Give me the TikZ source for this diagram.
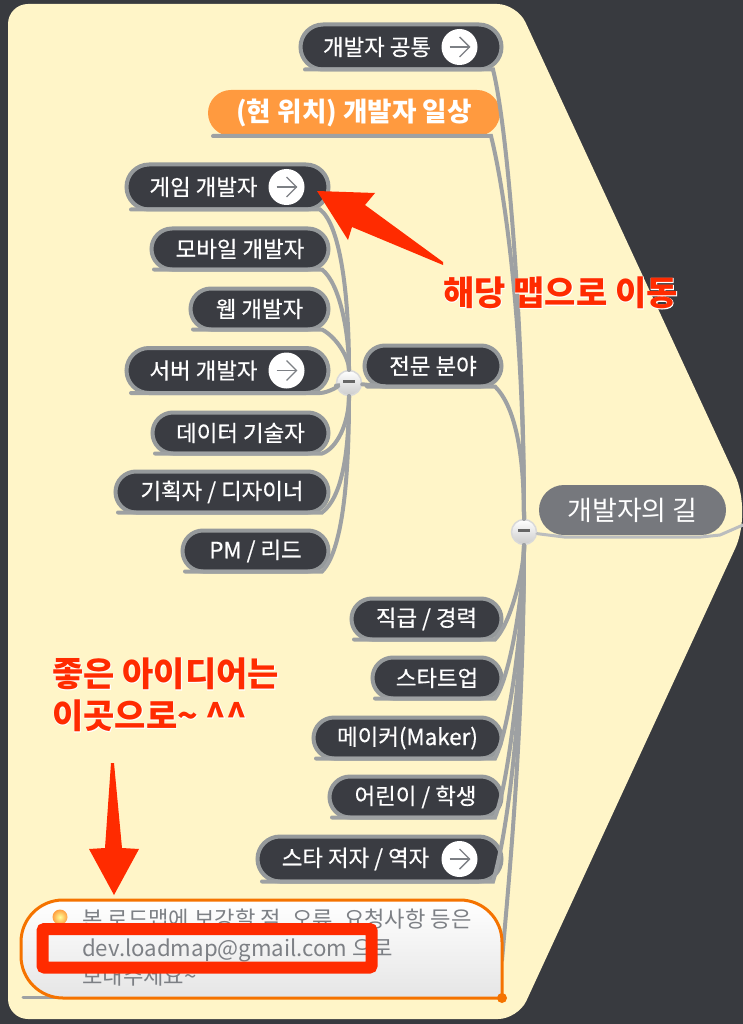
\documentclass[tikz,border=0pt]{standalone}
\usepackage{fontspec}
\usepackage{xcolor}
\usetikzlibrary{shapes.misc}
\setmainfont{Noto Sans CJK KR}
\newfontfamily\pillfont[FakeBold=0.5]{Noto Sans CJK KR}
\definecolor{bgdark}{HTML}{383A3F}
\definecolor{paper}{HTML}{FFF5C8}
\definecolor{pillfill}{HTML}{3A3C42}
\definecolor{pilledge}{HTML}{95999B}
\definecolor{linkgray}{HTML}{9EA1A3}
\definecolor{rootfill}{HTML}{76787D}
\definecolor{daily}{HTML}{FF9A3F}
\definecolor{noteedge}{HTML}{F57300}
\definecolor{notetext}{HTML}{7D8085}
\definecolor{alert}{HTML}{FF2B00}
\newcommand{\gotext}[1]{#1\kern48pt}
\tikzset{
    pill/.style={rounded rectangle, draw=pilledge, line width=4pt, fill=pillfill, text=white,
        minimum height=41pt, inner sep=0pt, font=\pillfont\fontsize{22.4}{25}\selectfont},
    tallpill/.style={pill, minimum height=45pt},
    link/.style={draw=linkgray, line width=4pt, line cap=round},
    gocircle/.style={circle, fill=white, minimum size=36pt, inner sep=0pt},
    gostroke/.style={draw=notetext, line width=1.4pt},
    hub/.style={circle, draw=white!85!black, line width=1.5pt, top color=white, bottom color=black!20,
        minimum size=25pt, inner sep=0pt},
    alerttext/.style={text=alert, font=\fontsize{34}{42}\selectfont\bfseries, align=left},
    halotext/.style={text=white, font=\fontsize{34}{42}\selectfont\bfseries, align=left}
}
\begin{document}
\begin{tikzpicture}[x=1pt,y=-1pt]
    \useasboundingbox (0,0) rectangle (743,1024);
    \fill[bgdark] (0,0) rectangle (743,1024);
    \fill[paper, rounded corners=20pt] (8,4) -- (517,4) [rounded corners=40pt] -- (752,512)
        [rounded corners=20pt] -- (518,1019) -- (8,1019) -- cycle;

    \node[hub] (hubA) at (349,383) {\textcolor{black!60}{\rule[3pt]{12pt}{3pt}}};
    \node[hub] (hubB) at (524,532) {\textcolor{black!60}{\rule[3pt]{12pt}{3pt}}};

    \node[tallpill, minimum width=201pt] (common) at (401,47) {\gotext{개발자 공통}};
    \node[pill, fill=daily, draw=none, minimum height=46pt, minimum width=292pt, font=\fontsize{26.6}{30}\selectfont\bfseries] (daily) at (354,113) {(현 위치) 개발자 일상};
    \node[tallpill, minimum width=202pt] (game) at (227.5,187) {\gotext{게임 개발자}};
    \node[pill, minimum width=177pt] (mobile) at (240,249) {모바일 개발자};
    \node[pill, minimum width=138pt] (web) at (259.5,309) {웹 개발자};
    \node[tallpill, minimum width=202pt] (server) at (227.5,370.5) {\gotext{서버 개발자}};
    \node[pill, minimum width=176pt] (data) at (240.5,433) {데이터 기술자};
    \node[pill, minimum width=213pt] (plan) at (222,492) {기획자 / 디자이너};
    \node[pill, minimum width=146pt] (pm) at (255.5,551) {PM / 리드};
    \node[pill, minimum width=137pt] (field) at (433,366) {전문 분야};
    \node[pill, fill=rootfill, draw=none, minimum height=50pt, minimum width=187pt, font=\fontsize{27}{30}\selectfont] (root) at (632.5,510) {개발자의 길};
    \node[pill, minimum width=150pt] (rank) at (426.5,619) {직급 / 경력};
    \node[pill, minimum width=129pt] (startup) at (437,678) {스타트업};
    \node[pill, minimum width=188pt] (maker) at (407.5,738) {메이커(Maker)};
    \node[pill, minimum width=172pt] (youth) at (415.5,797) {어린이 / 학생};
    \node[tallpill, minimum width=244pt] (star) at (379.5,859) {\gotext{스타 저자 / 역자}};

    \foreach \n/\c/\d in {game/{20,15}/{0,-90}, mobile/{18,14}/{0,-50}, web/{15,8}/{0,-25},
            server/{8,0}/{-5,1}, data/{15,-5}/{0,40}, plan/{20,-15}/{0,70}, pm/{20,-20}/{0,100}}
        \draw[link] ([shift={(-18pt,2pt)}]\n.south west) -- ([yshift=2pt]\n.south east) -- ++(14,0) .. controls +(\c) and +(\d) .. (hubA);
    \foreach \n/\c/\d in {common/{15,60}/{0,-200}, daily/{15,60}/{0,-200}, field/{20,20}/{0,-80},
            rank/{15,-15}/{0,40}, startup/{15,-20}/{0,60}, maker/{15,-30}/{0,90},
            youth/{15,-40}/{0,120}, star/{15,-50}/{0,170}}
        \draw[link] ([shift={(-18pt,2pt)}]\n.south west) -- ([yshift=2pt]\n.south east) -- ++(14,0) .. controls +(\c) and +(\d) .. (hubB);

    \foreach \n in {common,game,server,star} {
        \node[gocircle] (go\n) at ([xshift=-44pt]\n.east) {};
        \draw[gostroke] ([xshift=-10pt]go\n.center) -- ([xshift=10pt]go\n.center);
        \draw[gostroke] ([yshift=10pt]go\n.center) -- ([xshift=10pt]go\n.center) -- ([yshift=-10pt]go\n.center);
    }

    \coordinate (rootExit) at (743,525);
    \draw[link, line width=3pt, linkgray!70] (hubB) -- (root.south west) -- (root.south east) -- (720,535) -- (rootExit);
    \draw[link] (hubA) -- ([yshift=2pt]field.south west);

    % note
    \coordinate (noteNW) at (21,900);
    \coordinate (noteSE) at (502,998);
    \coordinate (noteRight) at (502,960);
    \draw[link] (noteRight) .. controls +(5,-60) and +(0,200) .. (hubB);
    \draw[link, line width=3pt] (23,997) -- (60,997);
    \draw[draw=noteedge, line width=3pt, top color=white, bottom color=black!10]
        (noteSE) [rounded corners=42pt] -- (noteNW |- noteSE) -- (noteNW) -- (noteSE |- noteNW) [sharp corners] -- cycle;
    \node[circle, inner color=yellow!40!white, outer color=orange!75, minimum size=15pt, inner sep=0pt] (bulb) at (60,917) {};
    \node[text=notetext, anchor=west, align=left, inner sep=0pt, font=\fontsize{22.2}{28.5}\selectfont] (noteText) at (82,948)
        {본 로드맵에 보강할 점, 오류, 요청사항 등은\\dev.loadmap@gmail.com 으로\\보내주세요\textasciitilde};
    \node[circle, fill=noteedge, minimum size=10pt, inner sep=0pt] (noteDot) at (noteSE) {};

    % red marks
    \fill[alert] (317,191) -- (375,193) -- (365,205) -- (443,262) -- (443,265) -- (352,227) -- (348,240) -- cycle;
    \fill[alert] (111,763) -- (105,848) -- (89,849) -- (114,895) -- (139,849) -- (122,848) -- (114,763) -- cycle;
    \draw[alert, line width=12pt, rounded corners=2pt] (42.5,929) rectangle (371.5,967.5);

    \node[halotext, anchor=west, inner sep=0pt] (moveHalo) at (443,293) {\addfontfeature{FakeBold=3}해당 맵으로 이동};
    \node[alerttext, anchor=west, inner sep=0pt] (moveText) at (443,293) {해당 맵으로 이동};
    \node[halotext, anchor=west, inner sep=0pt] (ideaHalo) at (52,695) {\addfontfeature{FakeBold=3}좋은 아이디어는\\\addfontfeature{FakeBold=3}이곳으로\textasciitilde{} \textasciicircum\textasciicircum};
    \node[alerttext, anchor=west, inner sep=0pt] (ideaText) at (52,695) {좋은 아이디어는\\이곳으로\textasciitilde{} \textasciicircum\textasciicircum};
\end{tikzpicture}
\end{document}
